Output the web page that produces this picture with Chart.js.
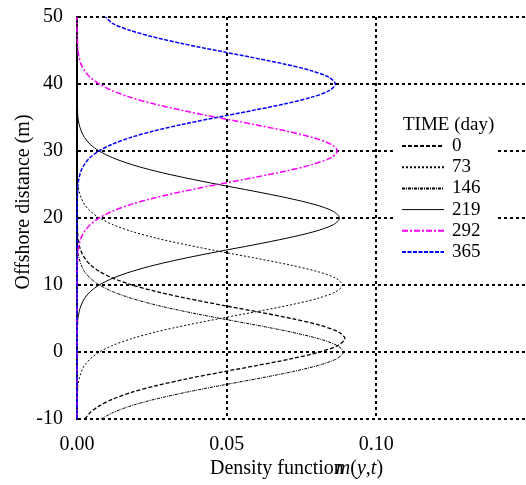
<!DOCTYPE html>
<html>
<head>
<meta charset="utf-8">
<script src="https://cdn.jsdelivr.net/npm/chart.js@4.4.1/dist/chart.umd.min.js"></script>
<style>
  html, body { margin: 0; padding: 0; background: #fff; }
  #wrap { width: 526px; height: 485px; }
</style>
</head>
<body>
<div id="wrap"><canvas id="chart"></canvas></div>
<script>
// offshore distance (m), shared by every curve
const distance = [-10, -9, -8, -7, -6, -5, -4, -3, -2, -1,
  0, 1, 2, 3, 4, 5, 6, 7, 8, 9,
  10, 11, 12, 13, 14, 15, 16, 17, 18, 19,
  20, 21, 22, 23, 24, 25, 26, 27, 28, 29,
  30, 31, 32, 33, 34, 35, 36, 37, 38, 39,
  40, 41, 42, 43, 44, 45, 46, 47, 48, 49, 50];

// density, one value per distance
const day0 = [.0026, .0045, .0076, .0121, .0184, .0267, .0368, .0483, .0603, .0717,
  .0811, .0873, .0895, .0873, .0811, .0717, .0603, .0483, .0368, .0267,
  .0184, .0121, .0076, .0045, .0026, .0014, .0007, .0003, .0002, .0001,
  0, 0, 0, 0, 0, 0, 0, 0, 0, 0,
  0, 0, 0, 0, 0, 0, 0, 0, 0, 0,
  0, 0, 0, 0, 0, 0, 0, 0, 0, 0, 0];
const day73 = [0, 0, 0, .0001, .0002, .0003, .0007, .0014, .0025, .0045,
  .0075, .0120, .0183, .0264, .0365, .0478, .0597, .0710, .0804, .0865,
  .0887, .0865, .0804, .0710, .0597, .0478, .0365, .0264, .0183, .0120,
  .0075, .0045, .0025, .0014, .0007, .0003, .0002, .0001, 0, 0,
  0, 0, 0, 0, 0, 0, 0, 0, 0, 0,
  0, 0, 0, 0, 0, 0, 0, 0, 0, 0, 0];
const day146 = [.0080, .0122, .0183, .0265, .0366, .0480, .0600, .0713, .0806, .0868,
  .0890, .0868, .0806, .0713, .0600, .0480, .0366, .0265, .0183, .0120,
  .0075, .0045, .0025, .0014, .0007, .0003, .0002, .0001, 0, 0,
  0, 0, 0, 0, 0, 0, 0, 0, 0, 0,
  0, 0, 0, 0, 0, 0, 0, 0, 0, 0,
  0, 0, 0, 0, 0, 0, 0, 0, 0, 0, 0];
const day219 = [0, 0, 0, 0, 0, 0, 0, 0, 0, 0,
  0, 0, 0, .0001, .0002, .0003, .0007, .0014, .0025, .0044,
  .0074, .0119, .0181, .0262, .0361, .0473, .0591, .0702, .0795, .0856,
  .0877, .0856, .0795, .0702, .0591, .0473, .0361, .0262, .0181, .0119,
  .0074, .0044, .0025, .0014, .0007, .0003, .0002, .0001, 0, 0,
  0, 0, 0, 0, 0, 0, 0, 0, 0, 0, 0];
const day292 = [0, 0, 0, 0, 0, 0, 0, 0, 0, 0,
  0, 0, 0, 0, 0, 0, 0, 0, 0, 0,
  0, 0, 0, .0001, .0002, .0003, .0007, .0013, .0025, .0044,
  .0074, .0118, .0179, .0259, .0358, .0469, .0586, .0697, .0788, .0849,
  .0870, .0849, .0788, .0697, .0586, .0469, .0358, .0259, .0179, .0118,
  .0074, .0044, .0025, .0013, .0007, .0003, .0002, .0001, 0, 0, 0];
const day365 = [0, 0, 0, 0, 0, 0, 0, 0, 0, 0,
  0, 0, 0, 0, 0, 0, 0, 0, 0, 0,
  0, 0, 0, 0, 0, 0, 0, 0, 0, 0,
  0, 0, 0, .0001, .0002, .0003, .0007, .0013, .0025, .0043,
  .0073, .0117, .0178, .0257, .0355, .0466, .0581, .0691, .0782, .0842,
  .0863, .0842, .0782, .0691, .0581, .0466, .0355, .0257, .0178, .0120, .0095];

const dayLabels = ['0', '73', '146', '219', '292', '365'];
const xTicks = [0, 0.05, 0.10];
const yTicks = [-10, 0, 10, 20, 30, 40, 50];

const FONT = "'Liberation Serif', 'DejaVu Serif', serif";

const styles = [
  { color: '#000', width: 1.3, dash: [4, 2] },
  { color: '#000', width: 1, dash: [2, 2] },
  { color: '#000', width: 1, dash: [3, 1, 1, 1] },
  { color: '#000', width: 1, dash: [] },
  { color: '#ff00ff', width: 1.5, dash: [6, 2, 2, 2] },
  { color: '#0000ff', width: 1.5, dash: [4, 1.5] }
];

const series = [day0, day73, day146, day219, day292, day365];

const datasets = series.map((vals, i) => ({
  label: dayLabels[i],
  data: vals.map((v, j) => ({ x: v, y: distance[j] })),
  showLine: true,
  borderColor: styles[i].color,
  borderWidth: styles[i].width,
  borderDash: styles[i].dash,
  pointRadius: 0,
  tension: 0.3,
  clip: false,
  order: 6 - i
}));

// legend box and axis titles drawn by hand to sit where the original has them
const extras = {
  id: 'extras',
  afterDraw(chart) {
    const ctx = chart.ctx;
    ctx.save();

    // legend
    ctx.fillStyle = '#fff';
    ctx.fillRect(396, 103, 102, 160);
    ctx.fillStyle = '#000';
    ctx.font = `19px ${FONT}`;
    ctx.textBaseline = 'middle';
    ctx.textAlign = 'left';
    ctx.fillText('TIME (day)', 403, 125);
    chart.data.datasets.forEach((ds, i) => {
      const y = 146 + i * 21.2;
      ctx.beginPath();
      ctx.strokeStyle = ds.borderColor;
      ctx.lineWidth = ds.borderDash.length ? 2 : 1;
      ctx.setLineDash(ds.borderDash);
      ctx.moveTo(402, y);
      ctx.lineTo(444, y);
      ctx.stroke();
      ctx.setLineDash([]);
      ctx.fillText(ds.label, 452, y);
    });

    // x title, with the italic m(y,t) overlapping the last letter like the original
    ctx.font = `20px ${FONT}`;
    ctx.textBaseline = 'alphabetic';
    let x = 210;
    const base = 474;
    ctx.fillText('Density function', x, base);
    x += ctx.measureText('Density functio').width + 2;
    const parts = [['m', true], ['(', false], ['y', true], [',', false], ['t', true], [')', false]];
    parts.forEach(([t, it]) => {
      ctx.font = `${it ? 'italic ' : ''}20px ${FONT}`;
      ctx.fillText(t, x, base);
      x += ctx.measureText(t).width;
    });

    // y title
    ctx.font = `20px ${FONT}`;
    ctx.translate(24, 202);
    ctx.rotate(-Math.PI / 2);
    ctx.textAlign = 'center';
    ctx.textBaseline = 'middle';
    ctx.fillText('Offshore distance (m)', 0, 0);

    ctx.restore();
  }
};

new Chart(document.getElementById('chart'), {
  type: 'scatter',
  data: { datasets },
  plugins: [extras],
  options: {
    responsive: true,
    maintainAspectRatio: false,
    animation: false,
    layout: { padding: { top: 17, right: 0, left: 0, bottom: 0 } },
    plugins: {
      legend: { display: false },
      tooltip: { enabled: false }
    },
    scales: {
      x: {
        type: 'linear',
        min: 0,
        max: 0.15,
        afterFit: s => { s.height = 66; },
        afterBuildTicks: s => { s.ticks = xTicks.map(v => ({ value: v })); },
        ticks: {
          color: '#000',
          font: { family: FONT, size: 20 },
          padding: 14,
          maxRotation: 0,
          callback: v => v.toFixed(2)
        },
        grid: { color: '#000', lineWidth: 2, drawTicks: false },
        border: { display: false, dash: [3, 3] }
      },
      y: {
        type: 'linear',
        min: -10,
        max: 50,
        afterFit: s => { s.width = 77; s.paddingTop = 0; s.paddingBottom = 0; },
        afterBuildTicks: s => { s.ticks = yTicks.map(v => ({ value: v })); },
        ticks: {
          color: '#000',
          font: { family: FONT, size: 20 },
          padding: 14
        },
        grid: { color: '#000', lineWidth: 2, drawTicks: false },
        border: { display: true, color: '#000', width: 2, dash: [3, 3] }
      }
    }
  }
});
</script>
</body>
</html>
